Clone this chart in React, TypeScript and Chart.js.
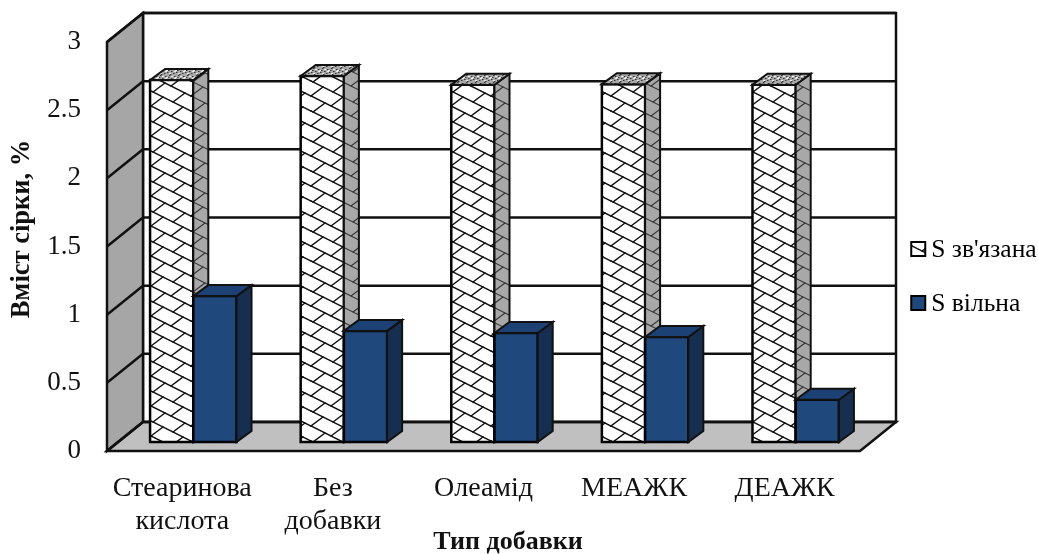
import React, { useEffect, useRef } from "react";
import { Chart, registerables } from "chart.js";

Chart.register(...registerables);

const categories = [["Стеаринова", "кислота"], ["Без", "добавки"], "Олеамід", "МЕАЖК", "ДЕАЖК"];
const boundSulfur = [2.655, 2.685, 2.62, 2.625, 2.62];
const freeSulfur = [1.07, 0.815, 0.8, 0.77, 0.31];
const seriesNames = ["S зв'язана", "S вільна"];
const xTitle = "Тип добавки";
const yTitle = "Вміст сірки, %";

const FONT = '"Liberation Serif", "Times New Roman", serif';
const INK = "#111111";
const NAVY = ["#1f497d", "#1b4175", "#162f50"];
const LEGEND_FONT = 25.5;
const LEGEND_INDENT = 30;

// Depth of the box and of each bar, as seen in the oblique projection.
const BOX = { dx: 36, dy: -29 };
const BAR = { dx: 15, dy: -11 };
const BAR_SHIFT = { x: 11, y: -9 };

// Long falling strokes joined by short staggered rising ones.
function hatchTile(background: string, line: string, width: number) {
  const tile = document.createElement("canvas");
  tile.width = 60;
  tile.height = 30;
  const c = tile.getContext("2d")!;
  c.fillStyle = background;
  c.fillRect(0, 0, 60, 30);
  c.strokeStyle = line;
  c.lineWidth = width;
  c.lineCap = "round";
  for (let i = -2; i <= 2; i++) {
    for (let row = -4; row <= 4; row++) {
      const ox = i * 60;
      const oy = row * 15;
      c.beginPath();
      c.moveTo(ox, oy);
      c.lineTo(ox + 60, oy + 30);
      c.stroke();
      const stagger = row % 2 === 0 ? 0 : 2;
      for (const a of [0, 20, 40]) {
        const sx = ox + a + stagger;
        const sy = oy + (a + stagger) / 2 + 15;
        c.beginPath();
        c.moveTo(sx, sy);
        c.lineTo(sx + 12, sy - 9);
        c.stroke();
      }
    }
  }
  return c.createPattern(tile, "repeat")!;
}

function speckleTile() {
  const tile = document.createElement("canvas");
  tile.width = 9;
  tile.height = 7;
  const c = tile.getContext("2d")!;
  c.fillStyle = "#a8a8a8";
  c.fillRect(0, 0, 9, 7);
  c.fillStyle = "#333333";
  for (const [x, y] of [[1, 1], [5, 0], [7, 3], [3, 4], [0, 5], [6, 6], [4, 2]]) c.fillRect(x, y, 1.5, 1);
  c.fillStyle = "#ececec";
  for (const [x, y] of [[2, 2], [7, 1], [1, 3], [5, 5]]) c.fillRect(x, y, 2, 1);
  return c.createPattern(tile, "repeat")!;
}

function polygon(c: CanvasRenderingContext2D, pts: number[][], fill: any, stroke = INK, lw = 2) {
  c.beginPath();
  pts.forEach(([x, y], i) => (i ? c.lineTo(x, y) : c.moveTo(x, y)));
  c.closePath();
  if (fill) {
    c.fillStyle = fill;
    c.fill();
  }
  if (lw > 0) {
    c.lineWidth = lw;
    c.strokeStyle = stroke;
    c.lineJoin = "miter";
    c.stroke();
  }
}

export default function App() {
  const ref = useRef<HTMLCanvasElement>(null);

  useEffect(() => {
    const canvas = ref.current!;
    const hatch = hatchTile("#ffffff", "#111111", 1.5);
    const sideHatch = hatchTile("#a8a8a8", "#333333", 1.1);
    const speckle = speckleTile();

    const box3d = {
      id: "box3d",
      // The category labels run below the reserved axis height; let them use the full canvas.
      afterLayout(chart: any) {
        chart.scales.x.bottom = chart.height;
      },
      beforeDatasetsDraw(chart: any) {
        const c = chart.ctx as CanvasRenderingContext2D;
        const { left, right, top, bottom } = chart.chartArea;
        const { dx, dy } = BOX;
        c.save();
        polygon(c, [[left + dx, top + dy], [right + dx, top + dy], [right + dx, bottom + dy], [left + dx, bottom + dy]], "#ffffff", INK, 2.5);
        polygon(c, [[left, top], [left + dx, top + dy], [left + dx, bottom + dy], [left, bottom]], "#a6a6a6", INK, 2.5);
        polygon(c, [[left, bottom], [left + dx, bottom + dy], [right + dx, bottom + dy], [right, bottom]], "#c0c0c0", INK, 2.5);
        c.strokeStyle = INK;
        c.lineWidth = 2.5;
        for (const t of chart.scales.y.ticks) {
          const y = chart.scales.y.getPixelForValue(t.value);
          c.beginPath();
          c.moveTo(left, y);
          c.lineTo(left + dx, y + dy);
          c.lineTo(right + dx, y + dy);
          c.stroke();
        }
        c.restore();
      },
      // Series are painted from the first to the last so that the nearer faces overlap correctly.
      beforeDatasetDraw() {
        return false;
      },
      afterDatasetsDraw(chart: any) {
        const c = chart.ctx as CanvasRenderingContext2D;
        chart.data.datasets.forEach((_: any, index: number) => {
          const meta = chart.getDatasetMeta(index);
          c.save();
          c.translate(BAR_SHIFT.x, BAR_SHIFT.y);
          meta.controller.draw();
          for (const bar of meta.data) {
            const { x, y, base, width } = bar.getProps(["x", "y", "base", "width"], true);
            const l = x - width / 2;
            const r = x + width / 2;
            const isBound = index === 0;
            polygon(c, [[l, y], [r, y], [r, base], [l, base]], null, "#000000", 2.5);
            polygon(c, [[r, y], [r + BAR.dx, y + BAR.dy], [r + BAR.dx, base + BAR.dy], [r, base]], isBound ? sideHatch : NAVY[2]);
            polygon(c, [[l, y], [l + BAR.dx, y + BAR.dy], [r + BAR.dx, y + BAR.dy], [r, y]], isBound ? speckle : NAVY[1]);
          }
          c.restore();
        });
      },
      afterDraw(chart: any) {
        const c = chart.ctx as CanvasRenderingContext2D;
        c.save();
        c.fillStyle = INK;
        c.font = `bold 26px ${FONT}`;
        c.textAlign = "center";
        c.textBaseline = "middle";
        c.fillText(xTitle, 508, 542);
        c.translate(22, 229);
        c.rotate(-Math.PI / 2);
        c.font = `bold 26.5px ${FONT}`;
        c.fillText(yTitle, 0, 0);
        c.restore();
        c.save();
        chart.legend.legendHitBoxes.forEach((hb: any, i: number) => {
          const size = 14;
          const sx = hb.left + LEGEND_INDENT + LEGEND_FONT / 2 - 20;
          const sy = hb.top + hb.height / 2 - size / 2 - 1;
          polygon(c, [[sx, sy], [sx + size, sy], [sx + size, sy + size], [sx, sy + size]], i === 0 ? hatch : NAVY[0], "#000000", 2);
        });
        c.restore();
      },
    };

    const chart = new Chart(canvas, {
      type: "bar",
      data: {
        labels: categories as any,
        datasets: [
          { label: seriesNames[0], data: boundSulfur, backgroundColor: hatch as any, borderWidth: 0 },
          { label: seriesNames[1], data: freeSulfur, backgroundColor: NAVY[0], borderWidth: 0 },
        ],
      },
      options: {
        animation: false,
        responsive: false,
        devicePixelRatio: 1,
        layout: { padding: { top: 42, right: 0, bottom: 42, left: 0 } },
        datasets: { bar: { barPercentage: 1, categoryPercentage: 0.574, clip: false as any } },
        plugins: {
          tooltip: { enabled: false },
          legend: {
            position: "right",
            maxWidth: 178,
            labels: {
              color: INK,
              font: { family: FONT, size: LEGEND_FONT },
              boxWidth: LEGEND_INDENT,
              boxHeight: 0,
              padding: 28.5,
              generateLabels: () =>
                seriesNames.map((text, i) => ({ text, fillStyle: "transparent", strokeStyle: "transparent", lineWidth: 0, datasetIndex: i, hidden: false })),
            },
          },
        },
        scales: {
          x: {
            afterFit(scale: any) { scale.height = 61; },
            grid: { display: false },
            border: { display: false },
            ticks: { color: INK, font: { family: FONT, size: 28, lineHeight: 1.18 }, padding: 13, maxRotation: 0, autoSkip: false },
          },
          y: {
            min: 0,
            max: 3,
            afterFit(scale: any) { scale.width = 107; },
            grid: { display: false },
            border: { display: false },
            ticks: { stepSize: 0.5, color: INK, font: { family: FONT, size: 27 }, padding: 18, callback: (v: any) => String(v) },
          },
        },
      } as any,
      plugins: [box3d],
    });
    return () => chart.destroy();
  }, []);

  return <canvas ref={ref} width={1038} height={554} style={{ position: "fixed", left: 0, top: 0, display: "block" }} />;
}
